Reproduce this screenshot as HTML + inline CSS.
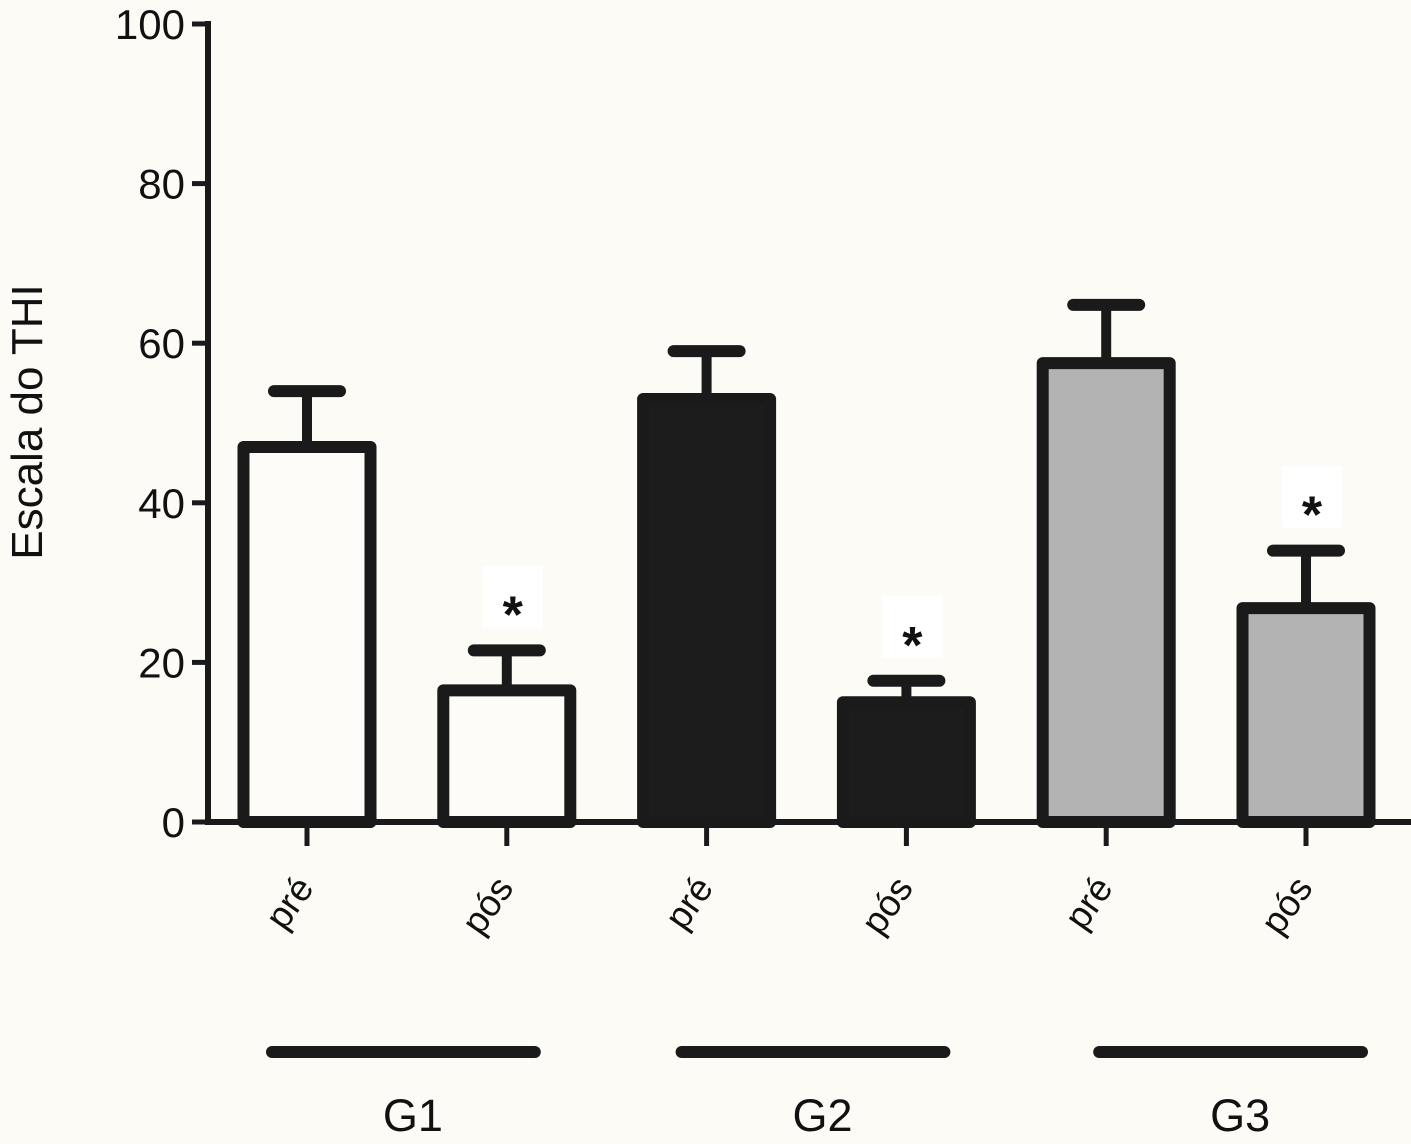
<!DOCTYPE html>
<html><head><meta charset="utf-8"><style>
html,body{margin:0;padding:0;background:#fcfbf6;}
svg{display:block;font-family:"Liberation Sans",sans-serif;}
</style></head><body>
<svg id="chart" width="1411" height="1144" viewBox="0 0 1411 1144">
<rect width="1411" height="1144" fill="#fcfbf6"/>
<g id="plot"></g>
</svg>
<script>
const categories = ["pré","pós","pré","pós","pré","pós"];
const means = [47, 16.5, 53, 15, 57.5, 26.8];
const errors = [54, 21.5, 59, 17.7, 64.8, 34];
const fills = ["#fdfcf8","#fdfcf8","#1c1c1c","#1c1c1c","#b3b3b3","#b3b3b3"];
const significant = [false,true,false,true,false,true];
const yTicks = [0,20,40,60,80,100];
const groups = ["G1","G2","G3"];

const NS="http://www.w3.org/2000/svg";
const g=document.getElementById('plot');
const y0=822, yTop=24, xAxis=208;
const yScale=v=>y0-(y0-yTop)*v/100;
const xCenter=i=>307+i*199.8;
function mk(tag,attrs,text){const e=document.createElementNS(NS,tag);for(const k in attrs)e.setAttribute(k,attrs[k]);if(text!==undefined)e.textContent=text;g.appendChild(e);return e;}
const ink="#1a1a1a";

yTicks.forEach(t=>{
  const y=yScale(t);
  const tk=mk('line',{x1:xAxis-16,x2:xAxis,y1:y,y2:y,stroke:ink,'stroke-width':5});
  
  
  const lb=mk('text',{x:xAxis-23,y:y+15,'text-anchor':'end','font-size':42,fill:'#111'},String(t));
  
  
});

categories.forEach((c,i)=>{
  const cx=xCenter(i), ym=yScale(means[i]), ye=yScale(errors[i]);
  const eb=mk('line',{x1:cx,x2:cx,y1:ye,y2:ym,stroke:ink,'stroke-width':10});
  
  
  const cap=mk('line',{x1:cx-33,x2:cx+33,y1:ye,y2:ye,stroke:ink,'stroke-width':12,'stroke-linecap':'round'});
  
  
  const b=mk('rect',{x:cx-63.5,y:ym,width:127,height:y0-ym,fill:fills[i],stroke:ink,'stroke-width':12,'stroke-linejoin':'round'});
  
  
  const tk=mk('line',{x1:cx,x2:cx,y1:y0,y2:y0+24,stroke:ink,'stroke-width':5});
  
  
  const lb=mk('text',{x:cx+8,y:888,'text-anchor':'end','font-size':37,fill:'#111',transform:`rotate(-55 ${cx+8} 888)`},c);
  
  
  if(significant[i]){
    const r=mk('rect',{x:cx-24,y:ye-85,width:60,height:62,fill:'#ffffff'});
    
    
    const s=mk('text',{x:cx+6,y:ye-18,'text-anchor':'middle','font-size':52,'font-weight':'bold',fill:'#111'},'*');
    
    
  }
});

const ya=mk('line',{x1:xAxis,x2:xAxis,y1:yTop-3,y2:y0+3,stroke:ink,'stroke-width':6});


const xa=mk('line',{x1:xAxis-3,x2:1411,y1:y0,y2:y0,stroke:ink,'stroke-width':6});



const groupShift=[-2,8,26];
groups.forEach((gn,k)=>{
  const c1=xCenter(2*k)+groupShift[k], c2=xCenter(2*k+1)+groupShift[k];
  const ln=mk('line',{x1:c1-33,x2:c2+30,y1:1052,y2:1052,stroke:ink,'stroke-width':12,'stroke-linecap':'round'});
  
  
  const t=mk('text',{x:(c1+c2)/2+8,y:1131,'text-anchor':'middle','font-size':45,fill:'#111'},gn);
  
  
});

const yt=mk('text',{x:42,y:422,'text-anchor':'middle','font-size':44,fill:'#111',transform:'rotate(-90 42 422)'},'Escala do THI');


</script>
</body></html>
